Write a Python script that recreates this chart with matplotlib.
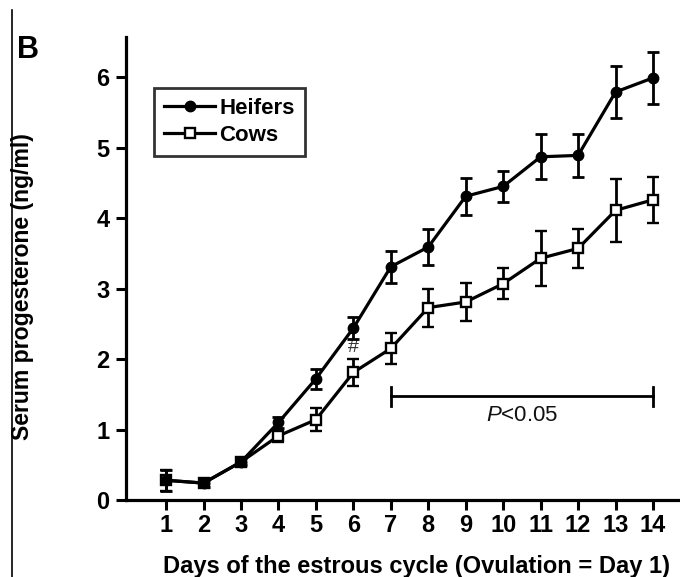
import matplotlib
matplotlib.use("Agg")
import matplotlib.pyplot as plt
from matplotlib.lines import Line2D
import numpy as np

days = list(range(1, 15))
heifers = [0.28, 0.24, 0.54, 1.10, 1.72, 2.44, 3.31, 3.59, 4.31, 4.45, 4.87, 4.89, 5.79, 5.99]
heifers_err = [0.15, 0.05, 0.05, 0.08, 0.14, 0.15, 0.23, 0.25, 0.26, 0.22, 0.32, 0.30, 0.37, 0.37]
cows = [0.28, 0.24, 0.54, 0.91, 1.14, 1.81, 2.15, 2.73, 2.81, 3.07, 3.43, 3.57, 4.11, 4.26]
cows_err = [0.15, 0.05, 0.05, 0.08, 0.16, 0.19, 0.22, 0.27, 0.27, 0.22, 0.39, 0.28, 0.45, 0.33]
yticks = [0, 1, 2, 3, 4, 5, 6]
sig_start, sig_end, sig_y = 7, 14, 1.47
hash_day, hash_y = 6, 2.17

plt.rcParams['font.family'] = ['Liberation Sans', 'DejaVu Sans']
plt.rcParams['font.weight'] = 'bold'
plt.rcParams['mathtext.fontset'] = 'custom'
plt.rcParams['mathtext.it'] = 'Liberation Sans:italic:normal'
plt.rcParams['mathtext.rm'] = 'Liberation Sans:normal'

fig = plt.figure(figsize=(6.8, 5.77), dpi=100)
ax = fig.add_axes([126/680, 77/577, 1 - 126/680, 463/577])

lw = 2.3
ax.errorbar(days, cows, yerr=cows_err, color='black', lw=lw, elinewidth=2,
            capsize=4, capthick=2, marker='s', ms=7, mfc='white', mec='black',
            mew=1.7, zorder=3, label='Cows')
ax.errorbar(days, heifers, yerr=heifers_err, color='black', lw=lw, elinewidth=2,
            capsize=4, capthick=2, marker='o', ms=7.5, mfc='black', mec='black',
            zorder=4, label='Heifers')

# significance bracket
ax.plot([sig_start, sig_end], [sig_y, sig_y], color='black', lw=2)
ax.plot([sig_start, sig_start], [sig_y - 0.14, sig_y + 0.14], color='black', lw=2)
ax.plot([sig_end, sig_end], [sig_y - 0.14, sig_y + 0.14], color='black', lw=2)
ax.text((sig_start + sig_end) / 2, sig_y - 0.27, r'$\mathit{P}$<0.05', ha='center', va='center',
        fontsize=16, fontweight='normal', color='#111111')
ax.text(hash_day, hash_y, '#', ha='center', va='center', fontsize=14,
        fontweight='normal', color='#333333')

ax.set_xlim(-0.07, 14.72)
ax.set_ylim(0, 6.57)
ax.set_xticks(days)
ax.set_yticks(yticks)
ax.tick_params(axis='both', width=2.2, length=7, labelsize=17)
ax.tick_params(axis='x', pad=3)
ax.tick_params(axis='y', pad=5)
for s in ['top', 'right']:
    ax.spines[s].set_visible(False)
for s in ['left', 'bottom']:
    ax.spines[s].set_linewidth(2.3)

handles = [Line2D([], [], color='black', lw=lw, marker='o', ms=7.5, mfc='black'),
           Line2D([], [], color='black', lw=lw, marker='s', ms=7, mfc='white', mew=1.7)]
leg = ax.legend(handles, ['Heifers', 'Cows'], loc='upper left',
                bbox_to_anchor=((154 - 126) / 554, (500 - 88) / 463),
                borderaxespad=0,
                frameon=True, fancybox=False, edgecolor='black',
                handlelength=2.3, handletextpad=0.2, borderpad=0.45, labelspacing=0.25,
                prop={'weight': 'bold', 'size': 16})
leg.get_frame().set_linewidth(2)

fig.text(416/680, 1 - 566/577, 'Days of the estrous cycle (Ovulation = Day 1)',
         ha='center', va='center', fontsize=17, fontweight='bold')
fig.text(23/680, 1 - 287/577, 'Serum progesterone (ng/ml)', rotation=90,
         ha='center', va='center', fontsize=16.6, fontweight='bold')
fig.text(28/680, 1 - 50/577, 'B', ha='center', va='center', fontsize=22, fontweight='bold')
fig.add_artist(Line2D([12/680, 12/680], [0, 1 - 10/577], color='black', lw=1.2,
                      transform=fig.transFigure))

fig.savefig('out.png', dpi=100)
